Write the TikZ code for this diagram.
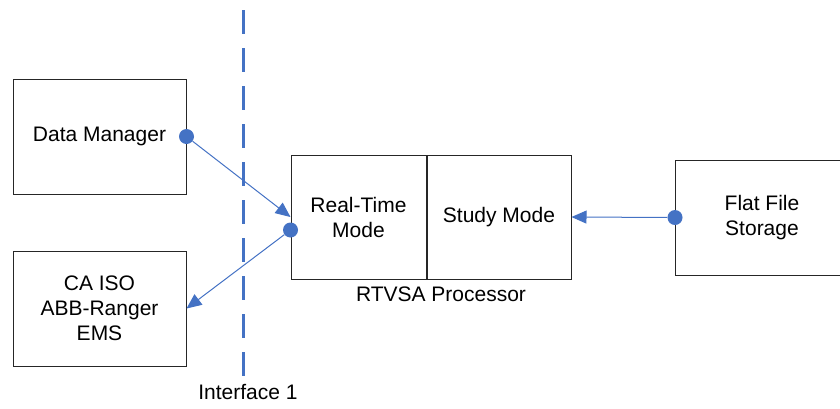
\documentclass[tikz,border=0pt]{standalone}
\usepackage{fontspec}
\setmainfont{Liberation Sans}
\usetikzlibrary{positioning, arrows.meta}
\definecolor{linkblue}{HTML}{4472C4}
\tikzset{
  block/.style={draw=black!85, line width=1pt, minimum width=173pt, minimum height=115pt,
    align=center, inner sep=0pt, font=\fontsize{21}{25}\selectfont},
  port/.style={circle, fill=linkblue, inner sep=0pt, minimum size=15pt},
  link/.style={draw=linkblue, line width=1pt, -{Triangle[length=15pt,width=13pt]}},
  caption/.style={font=\fontsize{21}{25}\selectfont}
}

\begin{document}
\begin{tikzpicture}[x=1pt, y=-1pt]
  \useasboundingbox (0,0) rectangle (840,408);

  % Define nodes
  \node[block] (dm) at (99.5,136.5) {Data Manager};
  \node[block] (ca) at (99.5,308.5) {CA ISO\\ABB-Ranger\\EMS};
  \node[block, minimum width=135pt, minimum height=124pt] (rt) at (358.5,217) {Real-Time\\Mode};
  \node[block, minimum width=144pt, minimum height=124pt, right=0pt of rt] (sm) {Study Mode};
  \node[block] (ff) at (762,217.5) {Flat File\\Storage};
  \node[caption] (proc) at (441,294) {RTVSA Processor};

  % Interface line
  \coordinate (itop) at (243,10);
  \coordinate (ibot) at (243,380);
  \draw[linkblue, line width=3pt, dash pattern=on 24pt off 14pt] (itop) -- (ibot);
  \node[caption] (iface) at (248,392) {Interface 1};

  % Connect the nodes
  \node[port] (p1) at (dm.east) {};
  \node[port, yshift=-13pt] (p2) at (rt.west) {};
  \node[port] (p3) at (ff.west) {};
  \draw[link] (p1) -- (rt.west);
  \draw[link] (p2) -- (ca.east);
  \draw[link] (p3) -- (sm.east);

\end{tikzpicture}
\end{document}
